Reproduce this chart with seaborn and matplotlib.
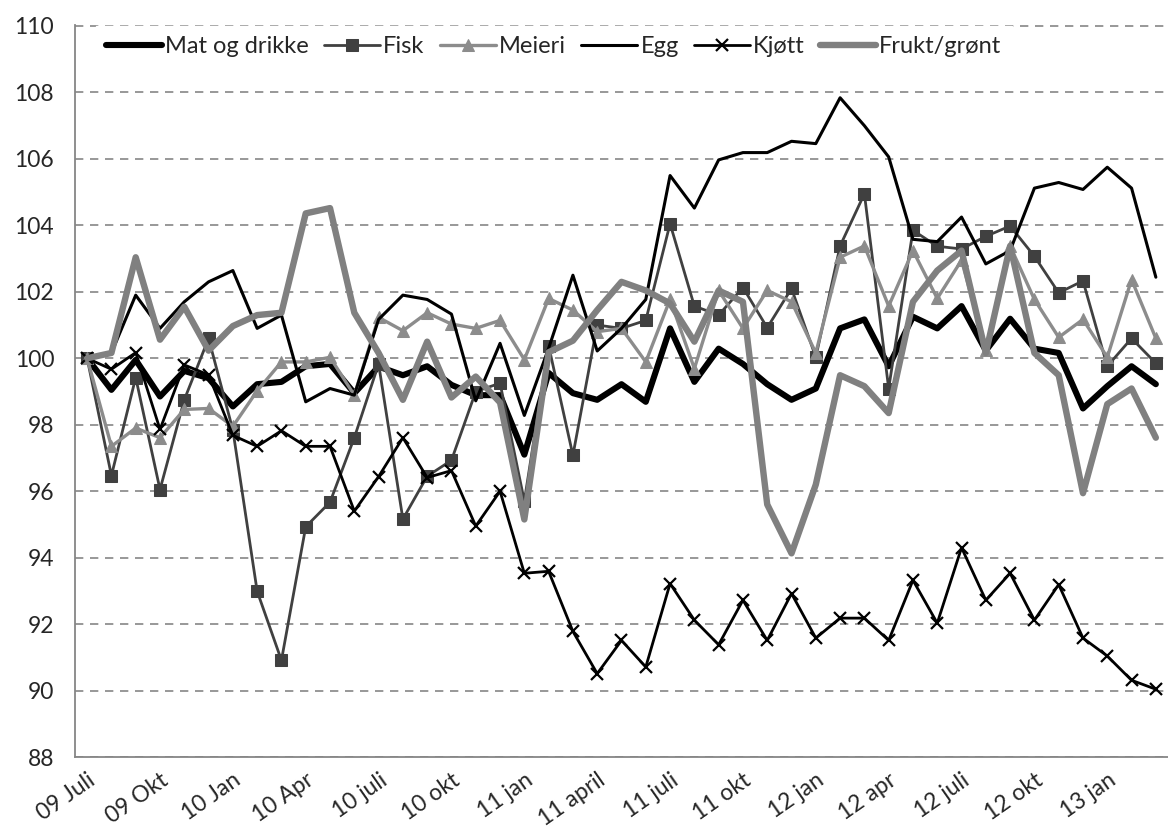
import numpy as np
import matplotlib
matplotlib.use('Agg')
import matplotlib.pyplot as plt
import seaborn as sns

sns.set_style('white')
plt.rcParams['font.family'] = ['Lato', 'DejaVu Sans']

# monthly index values, 09 Juli .. 13 mars
mat = [100.0, 99.05, 99.95, 98.85, 99.62, 99.4, 98.55, 99.22, 99.29, 99.76, 99.83, 98.95,
       99.75, 99.49, 99.76, 99.2, 98.89, 98.89, 97.1, 99.56, 98.95, 98.75, 99.22, 98.69,
       100.9, 99.29, 100.29, 99.83, 99.22, 98.75, 99.09, 100.9, 101.17, 99.76, 101.25, 100.9,
       101.57, 100.23, 101.19, 100.29, 100.16, 98.49, 99.16, 99.76, 99.22]
fisk = [100.0, 96.47, 99.42, 96.05, 98.75, 100.6, 97.84, 92.99, 90.91, 94.93, 95.67, 97.61,
        99.83, 95.16, 96.45, 96.93, 99.0, 99.25, 95.7, 100.38, 97.08, 101.0, 100.9, 101.14,
        104.05, 101.57, 101.3, 102.13, 100.92, 102.1, 100.03, 103.38, 104.95, 99.09, 103.85, 103.37,
        103.29, 103.67, 103.98, 103.07, 101.97, 102.33, 99.76, 100.6, 99.85]
meieri = [100.0, 97.35, 97.9, 97.61, 98.46, 98.49, 97.95, 99.02, 99.89, 99.89, 100.03, 98.89,
          101.23, 100.83, 101.37, 101.03, 100.9, 101.14, 99.96, 101.8, 101.45, 100.8, 100.9, 99.89,
          101.77, 99.69, 102.04, 100.9, 102.04, 101.7, 100.16, 103.04, 103.38, 101.57, 103.24, 101.8,
          102.95, 100.25, 103.38, 101.77, 100.63, 101.17, 100.03, 102.37, 100.6]
egg = [100.0, 100.16, 101.9, 100.9, 101.7, 102.3, 102.64, 100.9, 101.3, 98.69, 99.09, 98.89,
       101.17, 101.9, 101.77, 101.33, 98.72, 100.45, 98.28, 100.3, 102.5, 100.22, 100.9, 101.77,
       105.5, 104.52, 105.97, 106.19, 106.19, 106.53, 106.46, 107.84, 107.0, 106.06, 103.58, 103.51,
       104.25, 102.84, 103.24, 105.12, 105.29, 105.08, 105.75, 105.12, 102.44]
kjott = [100.0, 99.67, 100.17, 97.86, 99.8, 99.5, 97.68, 97.35, 97.82, 97.35, 97.35, 95.4,
         96.44, 97.61, 96.41, 96.62, 94.95, 96.0, 93.53, 93.59, 91.78, 90.51, 91.51, 90.71,
         93.22, 92.12, 91.38, 92.72, 91.51, 92.92, 91.58, 92.18, 92.18, 91.51, 93.32, 92.03,
         94.3, 92.72, 93.53, 92.12, 93.19, 91.58, 91.04, 90.31, 90.04]
frukt = [100.0, 100.16, 103.04, 100.56, 101.55, 100.23, 100.97, 101.3, 101.37, 104.36, 104.52, 101.37,
         100.16, 98.75, 100.5, 98.82, 99.45, 98.67, 95.15, 100.18, 100.53, 101.45, 102.3, 102.04,
         101.65, 100.5, 102.04, 101.7, 95.6, 94.13, 96.2, 99.49, 99.16, 98.35, 101.7, 102.64,
         103.24, 100.16, 103.38, 100.16, 99.49, 95.94, 98.62, 99.09, 97.61]

tick_labels = ['09 Juli', '09 Okt', '10 Jan', '10 Apr', '10 juli', '10 okt', '11 jan', '11 april',
               '11 juli', '11 okt', '12 jan', '12 apr', '12 juli', '12 okt', '13 jan']

x = np.arange(len(mat))
grey = '#868686'

fig = plt.figure(figsize=(11.68, 8.33), dpi=100)
ax = fig.add_axes([0.0642, 0.0912, 0.9358, 0.8788])

series = [
    ('Mat og drikke', mat, dict(color='black', lw=4.4)),
    ('Fisk', fisk, dict(color='#404040', lw=2.0, marker='s', ms=8, mec='#404040')),
    ('Meieri', meieri, dict(color='#8c8c8c', lw=2.4, marker='^', ms=8, mec='#8c8c8c')),
    ('Egg', egg, dict(color='black', lw=2.2)),
    ('Kjøtt', kjott, dict(color='black', lw=2.0, marker='x', ms=9, mew=1.6, mec='black')),
    ('Frukt/grønt', frukt, dict(color='#808080', lw=4.6)),
]
for name, vals, style in series:
    sns.lineplot(x=x, y=vals, ax=ax, label=name, solid_capstyle='round', **style)

ax.set_ylim(88, 110.03)
ax.set_yticks(np.arange(88, 111, 2))
ax.set_xlim(-0.5, 44.4)

ax.tick_params(axis='x', which='major', length=0, pad=9, labelsize=16.5)
ax.tick_params(axis='x', which='minor', length=7, width=1.3, color=grey, direction='out')
ax.tick_params(axis='y', which='major', length=10, width=1.3, color=grey, direction='inout',
               labelsize=16.5, pad=10)

ax.set_xticks(np.arange(-0.5, 45, 1), minor=True)
ax.set_xticks(np.arange(0, 45, 3), labels=tick_labels, rotation=35, ha='right',
              rotation_mode='anchor')

ax.yaxis.grid(True, color=grey, lw=1.2, linestyle=(0, (5, 4)))
ax.xaxis.grid(False)
for side in ['top', 'right']:
    ax.spines[side].set_visible(False)
for side in ['left', 'bottom']:
    ax.spines[side].set_color(grey)
    ax.spines[side].set_linewidth(1.3)
ax.set_xlabel('')
ax.set_ylabel('')

leg = ax.legend(loc='upper left', bbox_to_anchor=(0.008, 1.015), ncol=6, fontsize=17,
                frameon=True, framealpha=1, facecolor='white', edgecolor='white',
                handlelength=2.35, handletextpad=0.15, columnspacing=0.65, borderpad=0.45,
                fancybox=False)

# sanity check that the month labels really come out slanted
fig.canvas.draw()
ext = ax.get_xticklabels()[7].get_window_extent()
if ext.height < 35:
    raise RuntimeError(f'label not rotated: {ext.bounds}')

fig.savefig('out.png', dpi=100)
